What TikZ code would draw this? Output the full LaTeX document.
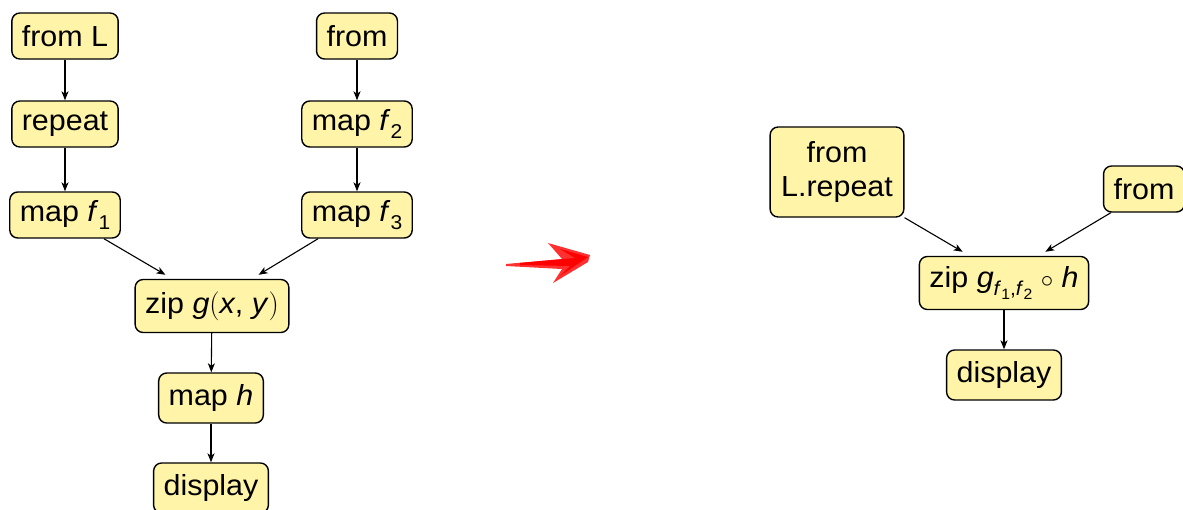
\documentclass[tikz,border=0pt]{standalone}
\usepackage{fontspec}
\setmainfont[FakeStretch=1.05]{Liberation Sans}
\newfontfamily\lmr{Latin Modern Roman}
\usetikzlibrary{arrows.meta,calc}
\definecolor{boxfill}{HTML}{FFF4A8}
\tikzset{
  box/.style={draw=black, line width=1.4pt, fill=boxfill, rounded corners=8pt,
    minimum height=46pt, inner xsep=10pt, inner ysep=4pt, align=center,
    font=\fontsize{29}{34}\selectfont},
  conn/.style={line width=1.1pt, -{Stealth[length=9pt,width=7pt,inset=2.5pt]}}
}
\newcommand{\iv}[1]{\textit{#1}}
\newcommand{\sbs}[1]{\raisebox{-0.28em}{\fontsize{20}{20}\selectfont #1}}
\newcommand{\ssbs}[1]{\raisebox{-0.2em}{\fontsize{15}{15}\selectfont #1}}
\begin{document}
\begin{tikzpicture}[x=1pt,y=-1pt]
\useasboundingbox (0,0) rectangle (1183,509);
% left graph
\node[box] (froml) at (65,36) {from L};
\node[box] (repeat) at (65,124) {repeat};
\node[box] (mapf1) at (65,215) {map \iv{f}\sbs{1}};
\node[box] (fromr) at (357,36) {from};
\node[box] (mapf2) at (357,124) {map \iv{f}\sbs{2}};
\node[box] (mapf3) at (357,215) {map \iv{f}\sbs{3}};
\node[box, minimum height=53pt] (zip) at (212,306) {zip \iv{g}{\lmr(}\iv{x}, \iv{y}{\lmr)}};
\node[box, minimum height=50pt] (maph) at (211,398) {map \iv{h}};
\node[box, minimum height=50pt] (disp) at (211,488) {display};
\draw[conn] (froml) -- (repeat);
\draw[conn] (repeat) -- (mapf1);
\draw[conn] (fromr) -- (mapf2);
\draw[conn] (mapf2) -- (mapf3);
\draw[conn] ($(mapf1.south east)+(-17,0)$) -- ($(zip.north west)+(31,-4)$);
\draw[conn] ($(mapf3.south west)+(17,0)$) -- ($(zip.north east)+(-31,-4)$);
\draw[conn] (zip) -- (maph);
\draw[conn] (maph) -- (disp);
% red brush arrow
\fill[red!90!white, opacity=0.9] (506,264) -- (562,259) -- (548,243) -- (590,255)
  -- (588,262) -- (553,283) -- (562,269) -- (506,266) -- cycle;
\fill[red] (520,263) -- (575,258) -- (560,249) -- (588,257) -- (560,276) -- (570,266) -- (520,265) -- cycle;
% right graph
\node[box, minimum height=90pt, inner xsep=11pt] (fromlr) at (837,172) {from\\L.repeat};
\node[box] (fromr2) at (1144,189) {from};
\node[box, minimum height=53pt] (zip2) at (1004,283) {zip \iv{g}\raisebox{-0.28em}{\fontsize{20}{20}\selectfont\iv{f}\ssbs{1},\iv{f}\ssbs{2}} {\fontsize{34}{34}\selectfont$\circ$} \iv{h}};
\node[box, minimum height=50pt] (disp2) at (1004,375) {display};
\draw[conn] ($(fromlr.south east)+(0,0)$) -- ($(zip2.north west)+(44,-4)$);
\draw[conn] ($(fromr2.south west)+(8,0)$) -- ($(zip2.north east)+(-44,-4)$);
\draw[conn] (zip2) -- (disp2);
\end{tikzpicture}
\end{document}
